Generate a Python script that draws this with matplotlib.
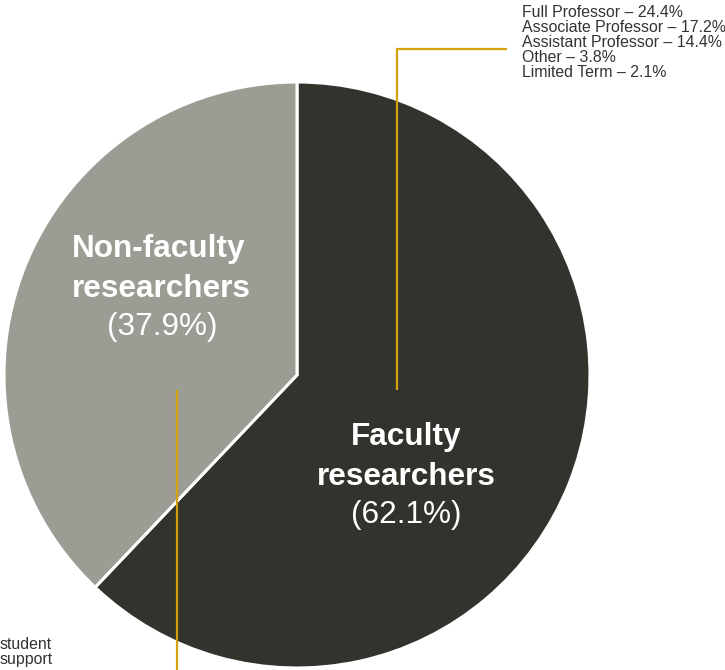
import matplotlib.pyplot as plt

# --- data ---
groups = ["Faculty", "Non-faculty"]
shares = [62.1, 37.9]
colors = ["#33332e", "#9c9c94"]
faculty_ranks = ["Full Professor", "Associate Professor", "Assistant Professor",
                 "Other", "Limited Term"]
faculty_rank_pct = [24.4, 17.2, 14.4, 3.8, 2.1]
nonfaculty_lines = ["student", "support"]

gold = "#d4a20b"
plt.rcParams['font.family'] = ['Liberation Sans', 'DejaVu Sans']

W, H = 725, 670
fig = plt.figure(figsize=(7.25, 6.7), dpi=100)
ax = fig.add_axes([0, 0, 1, 1])
ax.set_xlim(0, W)
ax.set_ylim(0, H)
ax.set_aspect('equal')
ax.axis('off')

def Y(y):
    # convert pixel row (from top) to data y
    return H - y

# pie: faculty starts at 12 o'clock going clockwise
ax.pie(shares, colors=colors, startangle=90, counterclock=False,
       center=(297, Y(375)), radius=293,
       wedgeprops=dict(edgecolor="white", linewidth=2.2), frame=True)
ax.set_xlim(0, W)
ax.set_ylim(0, H)
ax.axis('off')

# leader lines
ax.plot([397, 397, 507], [Y(390), Y(49), Y(49)], color=gold, lw=1.6,
        solid_capstyle='butt', solid_joinstyle='miter')
ax.plot([177, 177], [Y(390), Y(672)], color=gold, lw=1.6, solid_capstyle='butt')

# wedge labels
big = 22.7
ax.text(406, Y(445), "Faculty", color="white", fontsize=big, fontweight='bold',
        ha='center', va='baseline')
ax.text(406, Y(485), "researchers", color="white", fontsize=big, fontweight='bold',
        ha='center', va='baseline')
ax.text(406, Y(523), f"({shares[0]}%)", color="white", fontsize=big,
        ha='center', va='baseline')

ax.text(159, Y(257), "Non-faculty", color="white", fontsize=big, fontweight='bold',
        ha='center', va='baseline')
ax.text(161, Y(297), "researchers", color="white", fontsize=big, fontweight='bold',
        ha='center', va='baseline')
ax.text(162, Y(335), f"({shares[1]}%)", color="white", fontsize=big,
        ha='center', va='baseline')

# faculty breakdown list
small = 11.4
for i, (name, pct) in enumerate(zip(faculty_ranks, faculty_rank_pct)):
    ax.text(522, Y(17.3 + i * 14.9), f"{name} \u2013 {pct}%", color="#333333",
            fontsize=small, ha='left', va='baseline')

# non-faculty breakdown (cut off at the left edge)
for i, line in enumerate(nonfaculty_lines):
    ax.text(0, Y(649 + i * 15), line, color="#333333", fontsize=small,
            ha='left', va='baseline')

fig.savefig("out.png", dpi=100)
